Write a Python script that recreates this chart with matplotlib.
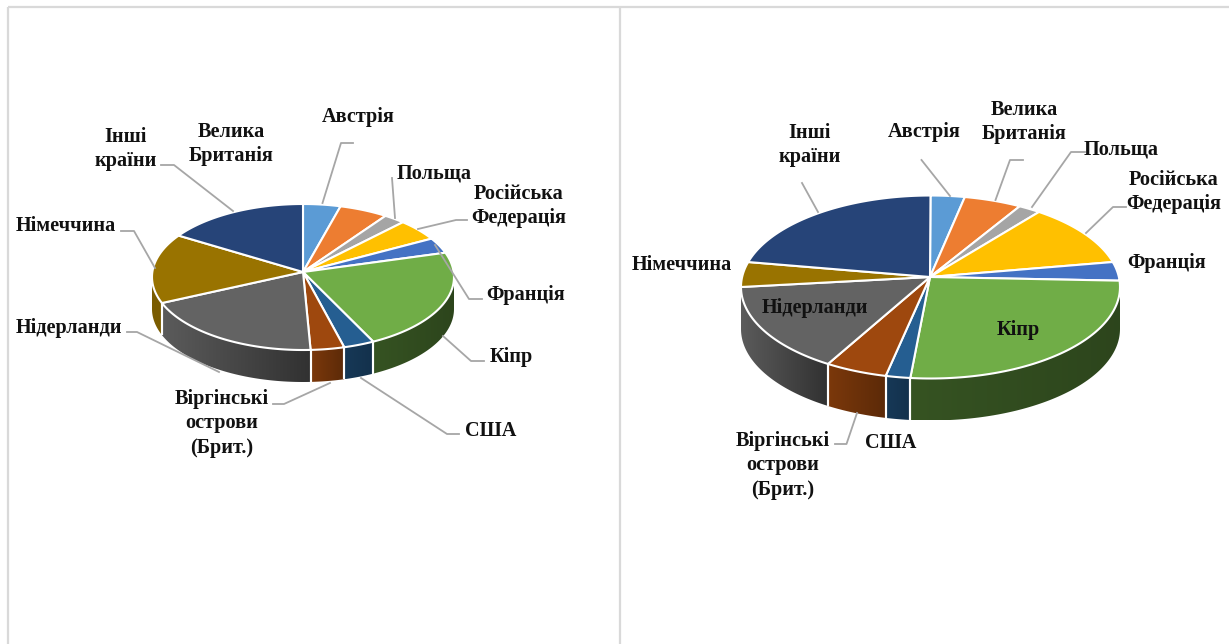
import numpy as np
import matplotlib
matplotlib.use("Agg")
import matplotlib.pyplot as plt
from matplotlib.patches import Polygon

plt.rcParams["font.family"] = ["Liberation Serif", "DejaVu Serif"]

# Country names, in slice order clockwise from twelve o'clock
countries = ["Австрія", "Велика\nБританія", "Польща", "Російська\nФедерація", "Франція",
             "Кіпр", "США", "Віргінські\nострови\n(Брит.)", "Нідерланди", "Німеччина",
             "Інші\nкраїни"]

# Shares in percent for each pie
shares_left = [4.0, 5.2, 2.3, 4.7, 3.4, 22.7, 3.3, 3.6, 20.0, 15.4, 15.4]
shares_right = [2.9, 4.9, 1.9, 10.9, 3.3, 27.8, 2.1, 5.3, 15.9, 4.4, 20.6]

slice_colors = ["#5B9BD5", "#ED7D31", "#A5A5A5", "#FFC000", "#4472C4", "#70AD47",
                "#255E91", "#9E480E", "#636363", "#997300", "#264478"]

# Wall shading: brightness factor at the left and right end of each slice's wall
wall_light = [.6, .6, .6, .6, .6, .48, .60, .78, .92, .80, .6]
wall_dark = [.5, .5, .5, .5, .5, .40, .52, .58, .50, .80, .5]

# Pie geometry in figure pixels: ellipse centre, radii, apex, wall depth
geom_left = dict(cx=303, cy=277, rx=151, ry=73, ax=303, ay=272, depth=32)
geom_right = dict(cx=930.5, cy=287, rx=189.5, ry=91.5, ax=930, ay=277, depth=42)

# Label centres, one per country
labels_left = [(358, 117), (231, 144), (434, 173), (519, 206), (526, 295), (511, 357),
               (491, 431), (222, 423), (69, 328), (66, 226), (126, 149)]
labels_right = [(924, 132), (1024, 122), (1121, 149), (1174, 192), (1167, 263), (1018, 330),
                (891, 443), (783, 465), (815, 308), (682, 265), (810, 145)]

# Leader lines
leaders = [
    [(322.5, 203), (341, 143), (353, 143)],
    [(395, 218), (392, 178)],
    [(418, 229), (456, 220), (467, 220)],
    [(435, 245), (469, 299), (482, 299)],
    [(443, 336), (471, 361), (484, 361)],
    [(361, 378), (447, 434), (459, 434)],
    [(330, 383), (284, 404), (273, 404)],
    [(219, 372), (137, 332), (127, 332)],
    [(155, 268), (134, 231), (121, 231)],
    [(233, 211), (174, 165), (161, 165)],
    [(950, 196), (921.5, 160)],
    [(995.5, 200), (1010, 160), (1023, 160)],
    [(1032, 207), (1071, 152), (1085, 152)],
    [(1086, 233), (1113, 207), (1126, 207)],
    [(857, 413), (846.5, 444), (835, 444)],
    [(818, 212), (802, 183)],
]


def rim(g, theta):
    """Point on the pie's top ellipse; theta runs clockwise from the top, in radians."""
    return g["cx"] + g["rx"] * np.sin(theta), g["cy"] - g["ry"] * np.cos(theta)


def draw_pie(ax, shares, g):
    edges = np.radians(np.cumsum([0] + list(shares)) * 3.6)
    # Walls: the front half of the rim extruded downward, with a left-to-right gradient
    for i, (a, b) in enumerate(zip(edges[:-1], edges[1:])):
        lo, hi = max(a, np.pi / 2), min(b, 3 * np.pi / 2)
        if hi <= lo:
            continue
        x, y = rim(g, np.linspace(lo, hi, 80))
        outline = np.vstack([np.column_stack([x, y]),
                             np.column_stack([x[::-1], y[::-1] + g["depth"]])])
        base = np.array(matplotlib.colors.to_rgb(slice_colors[i]))
        ramp = np.linspace(wall_light[i], wall_dark[i], 64)[:, None] * base
        img = ax.imshow(ramp[None, :, :], extent=(x.min(), x.max(), y.max() + g["depth"], y.min()),
                        aspect="auto", interpolation="bilinear", zorder=2)
        clip = Polygon(outline, closed=True, transform=ax.transData)
        img.set_clip_path(clip)
        # White seams between neighbouring walls
        for end in (lo, hi):
            if np.pi / 2 < end < 3 * np.pi / 2:
                ex, ey = rim(g, end)
                ax.plot([ex, ex], [ey, ey + g["depth"]], color="white", lw=1.5, zorder=3,
                        solid_capstyle="butt")
    # Top faces
    for i, (a, b) in enumerate(zip(edges[:-1], edges[1:])):
        x, y = rim(g, np.linspace(a, b, 80))
        pts = np.vstack([[g["ax"], g["ay"]], np.column_stack([x, y])])
        ax.add_patch(Polygon(pts, closed=True, fc=slice_colors[i], ec="white", lw=1.5,
                             joinstyle="round", zorder=4))


fig = plt.figure(figsize=(12.29, 6.44), dpi=100, facecolor="white")
ax = fig.add_axes([0, 0, 1, 1])
ax.axis("off")

# Panel frame
frame = dict(color="#D9D9D9", lw=1.6, solid_capstyle="butt", zorder=1)
ax.plot([8, 8], [7, 644], **frame)
ax.plot([8, 1229], [7, 7], **frame)
ax.plot([620, 620], [7, 644], **frame)

draw_pie(ax, shares_left, geom_left)
draw_pie(ax, shares_right, geom_right)

for line in leaders:
    xs, ys = zip(*line)
    ax.plot(xs, ys, color="#A6A6A6", lw=1.3, zorder=5)

for positions in (labels_left, labels_right):
    for name, (x, y) in zip(countries, positions):
        ax.text(x, y, name, ha="center", va="center", fontsize=14.6, fontweight="bold",
                color="#111111", linespacing=1.3, zorder=6)

ax.set_xlim(0, 1229)
ax.set_ylim(644, 0)

fig.savefig("out.png", dpi=100, facecolor="white")
